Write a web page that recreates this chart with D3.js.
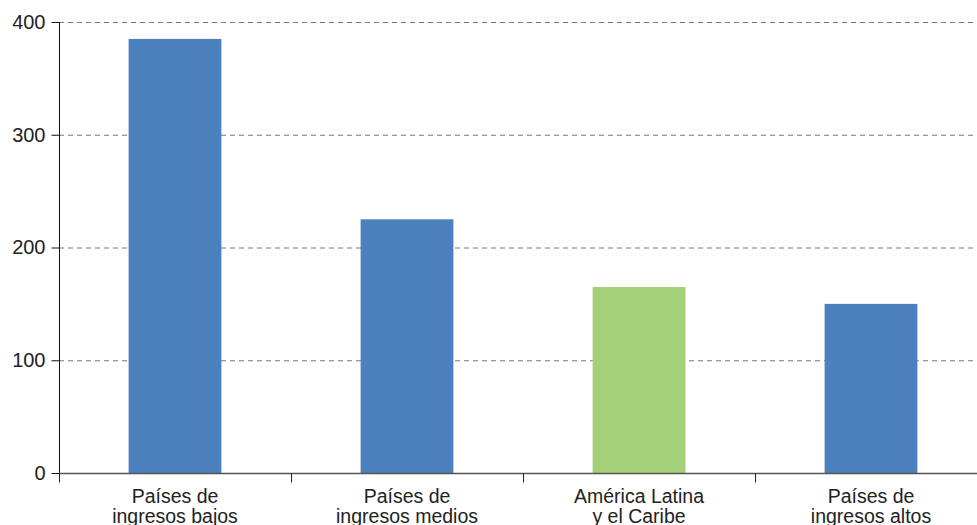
<!DOCTYPE html>
<html><head><meta charset="utf-8">
<script src="https://cdn.jsdelivr.net/npm/d3@7"></script>
<style>body{margin:0;background:#fff}svg{display:block}</style>
</head><body>
<svg id="c" width="977" height="525"></svg>
<script>
const categories = [["Países de","ingresos bajos"],["Países de","ingresos medios"],["América Latina","y el Caribe"],["Países de","ingresos altos"]];
const values = [385, 225, 165, 150];
const barColors = ["#4c81bd","#4c81bd","#a3d078","#4c81bd"];
const yTicks = [0,100,200,300,400];

const svg = d3.select("#c");
const x = d3.scaleBand().domain(d3.range(categories.length)).range([59, 987]).paddingInner(0.6).paddingOuter(0.3);
const y = d3.scaleLinear().domain([0,400]).range([473, 22]);
const font = "'Liberation Sans', Arial, sans-serif";

// gridlines
svg.append("g").selectAll("line").data(yTicks.filter(d=>d>0)).join("line")
  .attr("x1",59).attr("x2",977).attr("y1",d=>y(d)+0.5).attr("y2",d=>y(d)+0.5)
  .attr("stroke","#777").attr("stroke-width",1).attr("stroke-dasharray","5,4");

// bars
svg.append("g").selectAll("rect").data(values).join("rect")
  .attr("x",(d,i)=>x(i)).attr("width",x.bandwidth())
  .attr("y",d=>y(d)).attr("height",d=>y(0)-y(d))
  .attr("fill",(d,i)=>barColors[i]);

// y axis
const ya = svg.append("g").attr("transform","translate(59.5,0)")
  .call(d3.axisLeft(y).tickValues(yTicks).tickSize(8).tickPadding(6));
ya.select(".domain").attr("stroke","#111").attr("d","M0,"+y(400)+"V"+y(0));
ya.selectAll(".tick line").attr("stroke","#111");
ya.selectAll("text").attr("font-family",font).attr("font-size",20).attr("fill","#222");

// x axis
const xa = svg.append("g").attr("transform","translate(0,473.5)");
xa.append("line").attr("x1",59).attr("x2",977).attr("stroke","#555").attr("stroke-width",1.3);
const bounds = d3.range(categories.length+1).map(i=>x.range()[0]+i*x.step());
xa.selectAll("line.t").data(bounds.filter(b=>b<977)).join("line").attr("class","t")
  .attr("x1",d=>Math.round(d)+0.5).attr("x2",d=>Math.round(d)+0.5).attr("y1",0).attr("y2",9)
  .attr("stroke","#222");
const lbl = xa.selectAll("text").data(categories).join("text")
  .attr("font-family",font).attr("font-size",19.5).attr("fill","#222").attr("text-anchor","middle")
  .attr("transform",(d,i)=>`translate(${x(i)+x.bandwidth()/2},0)`);
lbl.selectAll("tspan").data(d=>d).join("tspan").attr("x",0).attr("y",(d,j)=>29.5+j*20).text(d=>d);
</script>
</body></html>
